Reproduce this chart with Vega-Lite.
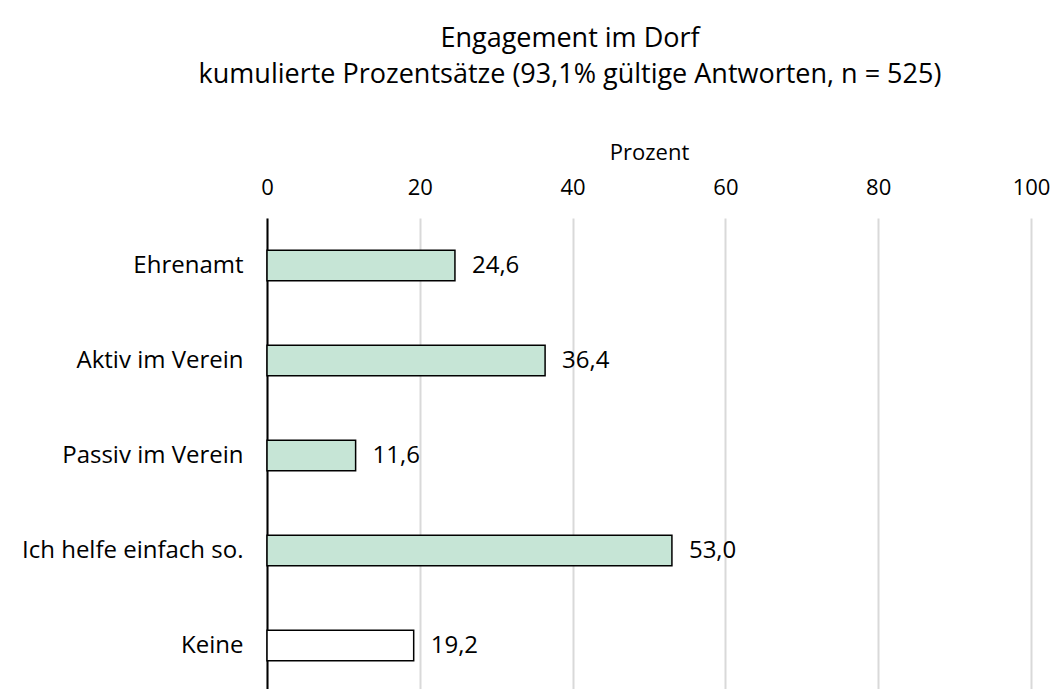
{
  "$schema": "https://vega.github.io/schema/vega-lite/v6.json",
  "width": 764,
  "height": 475,
  "autosize": {"type": "none"},
  "padding": {"left": 267, "top": 218, "right": 25, "bottom": 0},
  "background": "white",
  "config": {
    "view": {"stroke": null},
    "font": "Open Sans",
    "locale": {"number": {"decimal": ",", "thousands": ".", "grouping": [3], "currency": ["", " €"]}}
  },
  "title": {
    "text": ["Engagement im Dorf", "kumulierte Prozentsätze (93,1% gültige Antworten, n = 525)"],
    "anchor": "middle",
    "frame": "group",
    "dx": -79,
    "fontSize": 27,
    "fontWeight": "normal",
    "lineHeight": 36,
    "color": "black",
    "offset": 52
  },
  "data": {
    "values": [
      {"kategorie": "Ehrenamt", "prozent": 24.6, "gruppe": "engagiert"},
      {"kategorie": "Aktiv im Verein", "prozent": 36.4, "gruppe": "engagiert"},
      {"kategorie": "Passiv im Verein", "prozent": 11.6, "gruppe": "engagiert"},
      {"kategorie": "Ich helfe einfach so.", "prozent": 53.0, "gruppe": "engagiert"},
      {"kategorie": "Keine", "prozent": 19.2, "gruppe": "keine"}
    ]
  },
  "encoding": {
    "y": {
      "field": "kategorie",
      "type": "nominal",
      "sort": null,
      "scale": {"paddingInner": 0.68, "paddingOuter": 0.34},
      "axis": {
        "title": null,
        "ticks": false,
        "domainColor": "black",
        "domainWidth": 2,
        "labelFontSize": 24,
        "labelColor": "black",
        "labelPadding": 24,
        "labelLimit": 400
      }
    },
    "x": {
      "field": "prozent",
      "type": "quantitative",
      "scale": {"domain": [0, 100], "nice": false},
      "axis": {
        "orient": "top",
        "title": "Prozent",
        "titleFontSize": 22,
        "titleFontWeight": "normal",
        "titleColor": "black",
        "titlePadding": 12,
        "values": [0, 20, 40, 60, 80, 100],
        "domain": false,
        "ticks": false,
        "grid": true,
        "gridColor": "#d9d9d9",
        "gridWidth": 2,
        "labelFontSize": 22,
        "labelColor": "black",
        "labelPadding": 19,
        "labelFlush": false
      }
    }
  },
  "layer": [
    {
      "mark": {"type": "bar", "stroke": "black", "strokeWidth": 1.5},
      "encoding": {
        "fill": {
          "field": "gruppe",
          "type": "nominal",
          "scale": {"domain": ["engagiert", "keine"], "range": ["#c6e5d6", "#ffffff"]},
          "legend": null
        }
      }
    },
    {
      "mark": {"type": "text", "align": "left", "dx": 17, "fontSize": 24, "color": "black"},
      "encoding": {
        "text": {"field": "prozent", "type": "quantitative", "format": ".1f"}
      }
    }
  ]
}
